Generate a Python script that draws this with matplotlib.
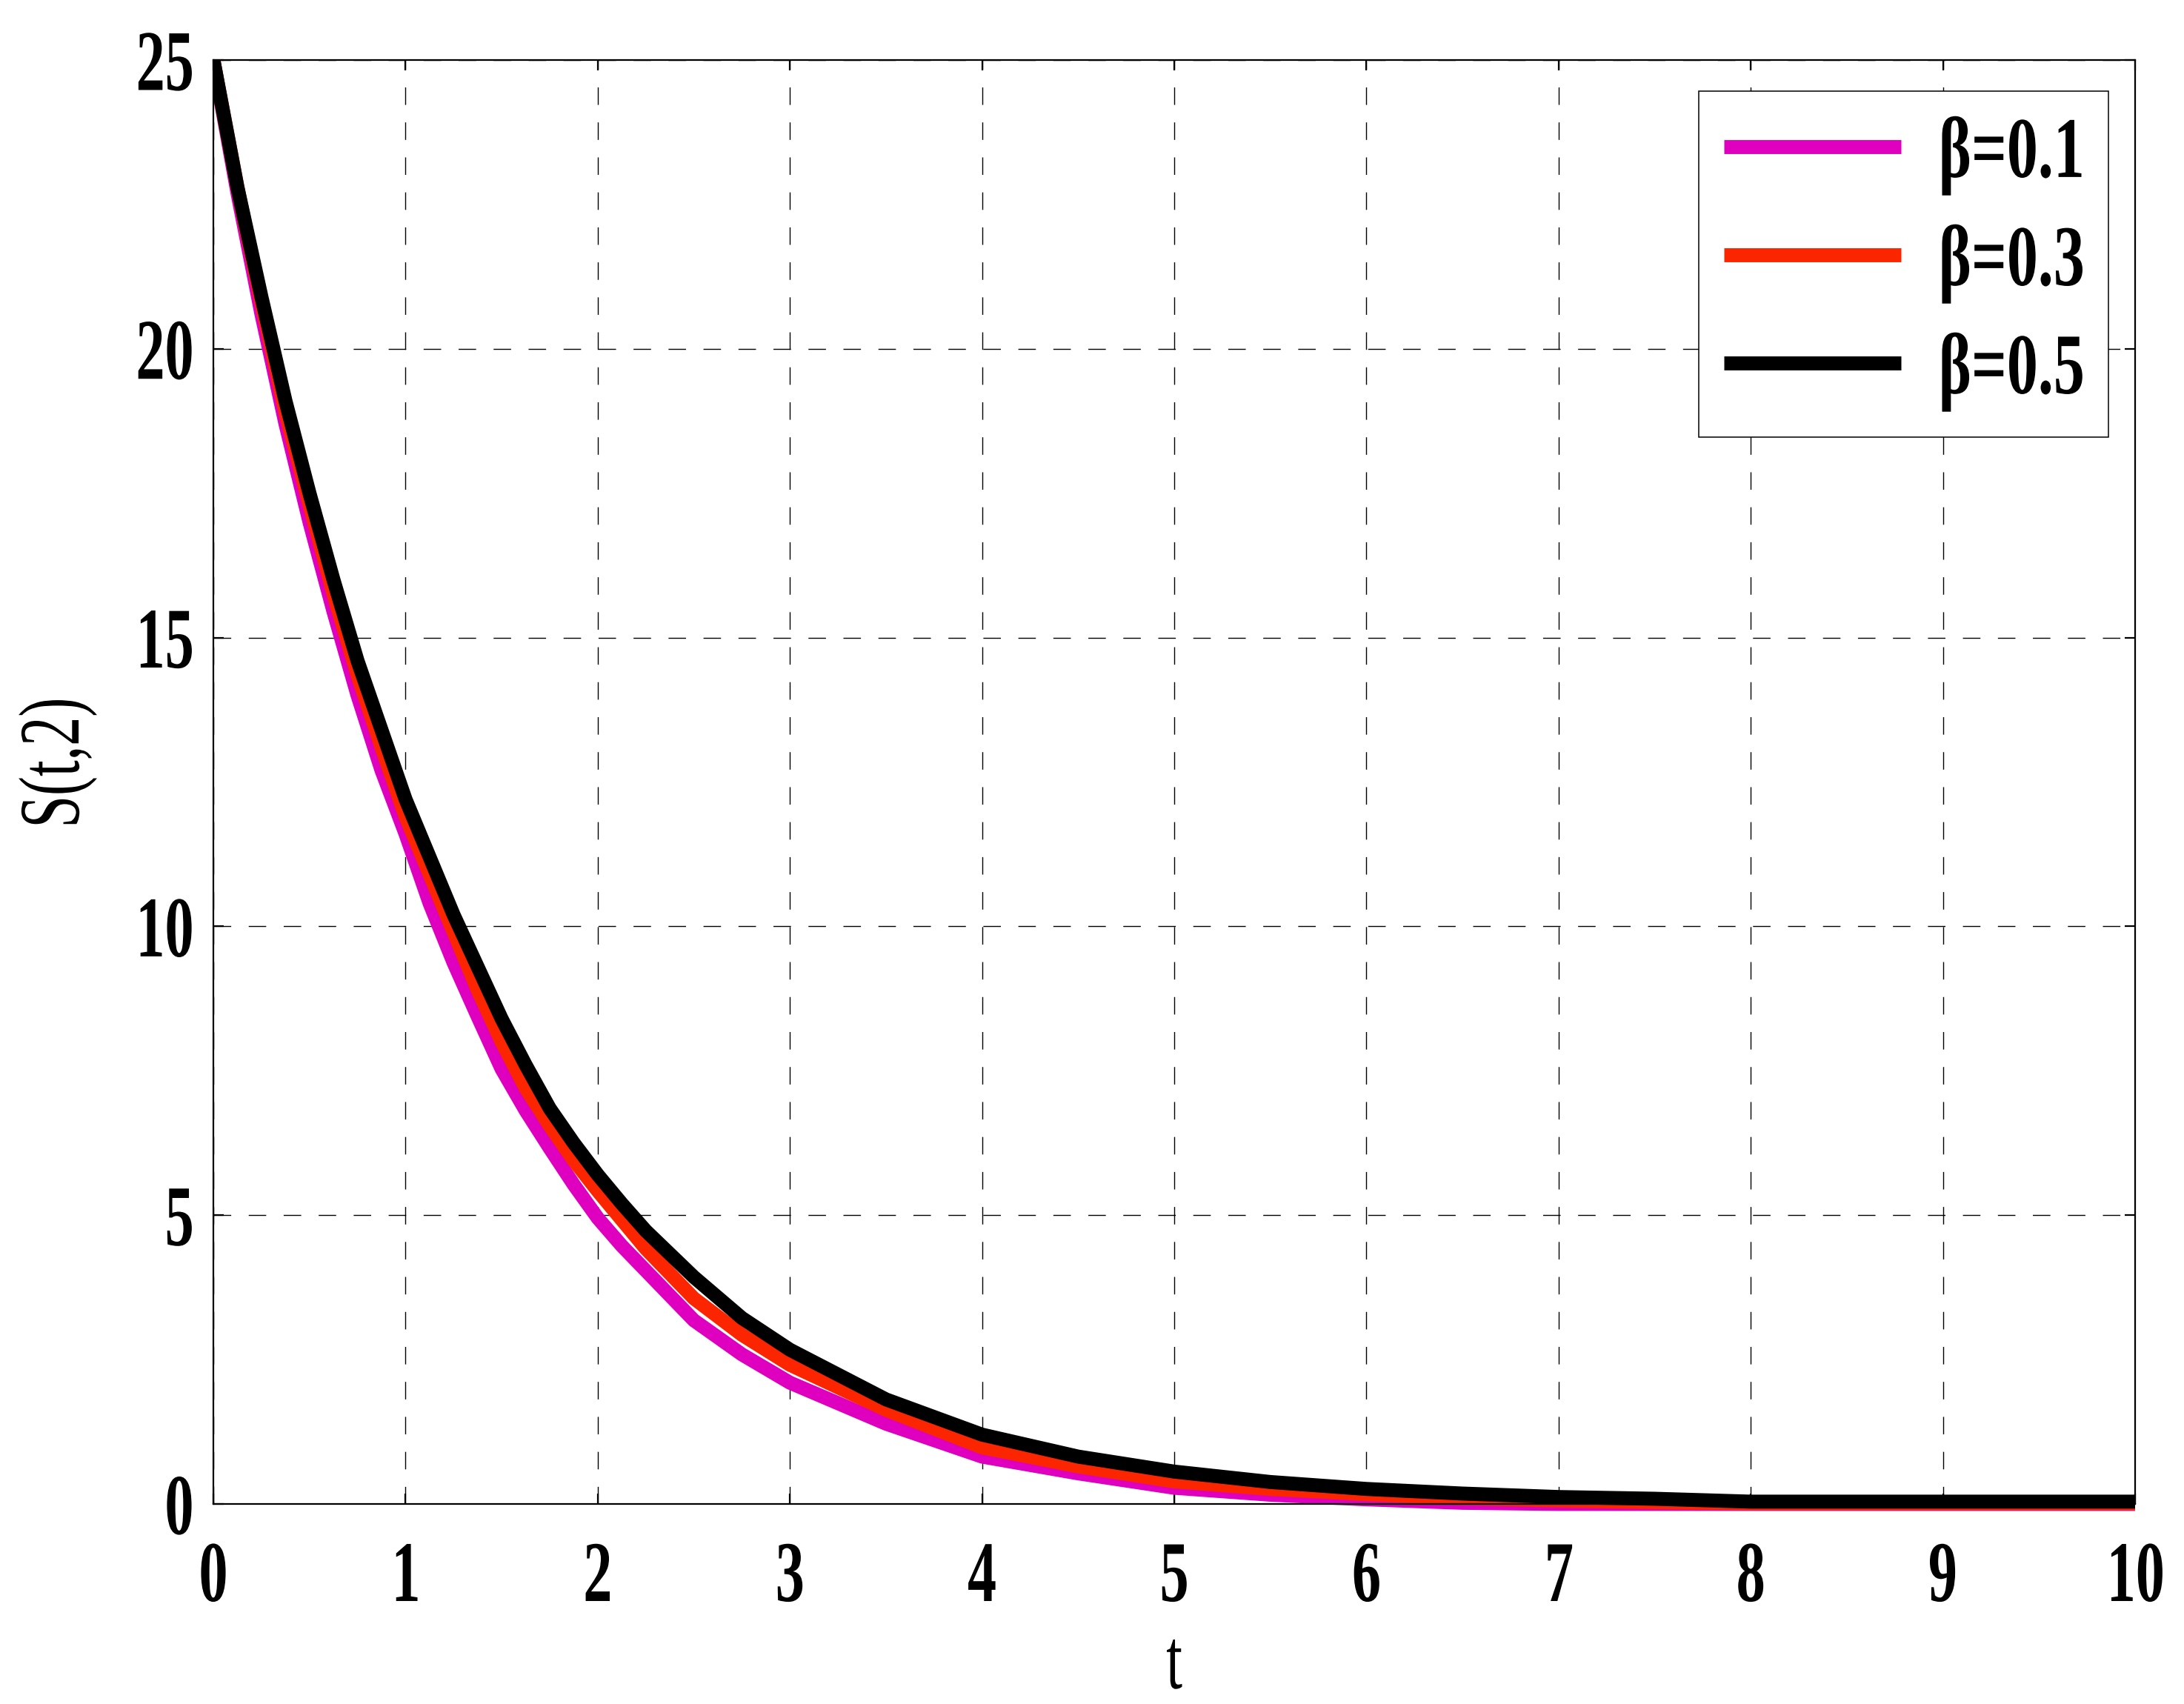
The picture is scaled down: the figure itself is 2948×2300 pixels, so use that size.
import matplotlib
matplotlib.use('Agg')
from matplotlib import pyplot as plt
from matplotlib import patheffects
from matplotlib.patches import Rectangle
from matplotlib.transforms import Affine2D

# values
t_values = [0, 0.125, 0.25, 0.375, 0.5, 0.625, 0.75, 0.875, 1, 1.125, 1.25, 1.375, 1.5,
            1.625, 1.75, 1.875, 2, 2.125, 2.25, 2.5, 2.75, 3, 3.5, 4, 4.5, 5, 5.5, 6,
            6.5, 7, 7.5, 8, 9, 10]
s_beta_01 = [25, 22.7, 20.6, 18.7, 17.0, 15.45, 14.0, 12.7, 11.6, 10.4, 9.37, 8.44, 7.53,
             6.81, 6.16, 5.53, 4.95, 4.47, 4.04, 3.18, 2.59, 2.10, 1.39, 0.82, 0.53, 0.28, 0.16, 0.08,
             0.02, 0.0, 0.0, 0.0, 0.0, 0.0]
s_beta_03 = [25, 22.8, 20.8, 18.9, 17.3, 15.75, 14.35, 13.1, 11.9, 10.9, 9.9, 8.9, 8.0,
             7.2, 6.55, 5.95, 5.42, 4.92, 4.42, 3.56, 2.93, 2.41, 1.63, 0.98, 0.65, 0.39, 0.26, 0.17,
             0.10, 0.06, 0.03, 0.01, 0.01, 0.01]
s_beta_05 = [25, 22.8, 20.9, 19.1, 17.5, 16.0, 14.6, 13.4, 12.2, 11.2, 10.2, 9.3, 8.4,
             7.6, 6.85, 6.25, 5.7, 5.2, 4.73, 3.93, 3.22, 2.67, 1.81, 1.2, 0.82, 0.56, 0.38, 0.26,
             0.18, 0.12, 0.09, 0.04, 0.04, 0.04]
series_labels = ['β=0.1', 'β=0.3', 'β=0.5']
series_colors = ['#DF00BF', '#FB2500', '#000000']
x_ticks = [0, 1, 2, 3, 4, 5, 6, 7, 8, 9, 10]
y_ticks = [0, 5, 10, 15, 20, 25]

FONT = 'Liberation Serif'
FONT_SIZE = 42
SQUEEZE = 0.67


class Squeeze(patheffects.AbstractPathEffect):
	"""Narrows the glyphs of a text (the reference uses a condensed serif)."""

	def __init__(self, sx=SQUEEZE, anchor='center'):
		super().__init__()
		self.sx = sx
		self.anchor = anchor

	def draw_path(self, renderer, gc, tpath, affine, rgbFace=None):
		ext = tpath.get_extents()
		if self.anchor == 'right':
			cx = ext.x1
		elif self.anchor == 'left':
			cx = ext.x0
		else:
			cx = (ext.x0 + ext.x1) / 2
		squeeze = Affine2D().translate(-cx, 0).scale(self.sx, 1).translate(cx, 0)
		renderer.draw_path(gc, tpath, squeeze + affine, rgbFace)


plt.rcParams['font.family'] = [FONT, 'DejaVu Serif']
plt.rcParams['font.weight'] = 'bold'
plt.rcParams['font.size'] = FONT_SIZE

fig = plt.figure(figsize=(14.74, 11.5), dpi=200)
ax = fig.add_axes([0.0977, 0.1174, 0.8799, 0.8474])

# lines may run a little below the x axis (as in the reference), but not above the box
clip = Rectangle((0, -0.012), 1, 1.012, transform=ax.transAxes, fill=False, visible=False)
ax.add_patch(clip)
for s_values, label, color in zip([s_beta_01, s_beta_03, s_beta_05], series_labels, series_colors):
	line, = ax.plot(t_values, s_values, color=color, lw=6.8, label=label,
					solid_joinstyle='round', solid_capstyle='butt')
	line.set_clip_path(clip)

ax.set_xlim(0, 10)
ax.set_ylim(0, 25)
ax.set_xticks(x_ticks)
ax.set_yticks(y_ticks)
ax.set_xticklabels([str(v) for v in x_ticks])
ax.set_yticklabels([str(v) for v in y_ticks])
ax.grid(True, color='black', lw=0.5, linestyle=(0, (17, 17)))
ax.set_axisbelow(True)
ax.tick_params(direction='in', top=True, right=True, length=5, width=0.8)
ax.tick_params(axis='x', pad=18)
ax.tick_params(axis='y', pad=9)
for spine in ax.spines.values():
	spine.set_linewidth(0.8)

ax.set_xlabel('t')
ax.set_ylabel('S(t,2)')
ax.xaxis.set_label_coords(0.5, -0.086)
ax.xaxis.label.set_va('top')
ax.yaxis.set_label_coords(-0.0605, 0.513)

for lbl in ax.get_xticklabels():
	lbl.set_path_effects([Squeeze(anchor='center')])
for lbl in ax.get_yticklabels():
	lbl.set_path_effects([Squeeze(anchor='right')])
ax.xaxis.label.set_path_effects([Squeeze()])
ax.yaxis.label.set_path_effects([Squeeze()])

leg = ax.legend(loc='upper left', bbox_to_anchor=(0.7729, 0.75, 0.2132, 0.2284), mode='expand',
				borderaxespad=0, borderpad=0.29, handlelength=2.05, handletextpad=0.42,
				labelspacing=0.334, fancybox=False, framealpha=1, edgecolor='black')
leg.get_frame().set_linewidth(0.55)
for txt in leg.get_texts():
	txt.set_path_effects([Squeeze(sx=0.72, anchor='left')])

fig.savefig('out.png', dpi=200)
